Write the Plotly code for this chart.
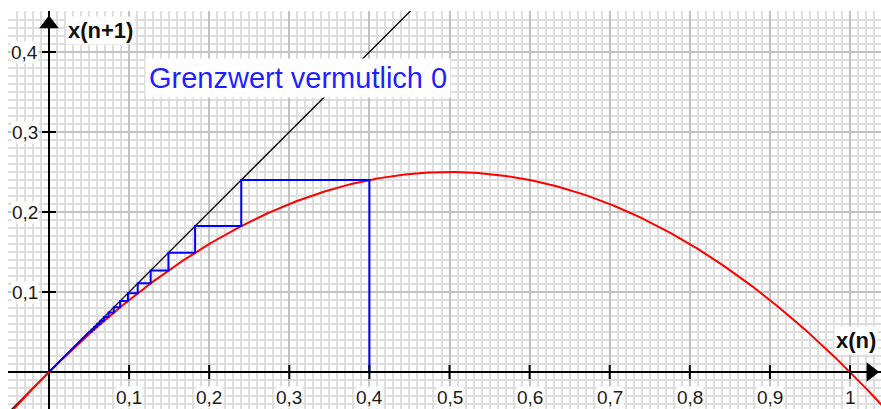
import numpy as np
import plotly.graph_objects as go

# Logistic map x(n+1) = r * x(n) * (1 - x(n)) with r = 1
r = 1.0

# Orbit values of the iteration (start 0.4, tending to the limit 0)
orbit = [0.4, 0.24, 0.1824, 0.1491, 0.1269, 0.1108, 0.0985, 0.0888,
         0.0809, 0.0744, 0.0688, 0.0641, 0.0600, 0.0564, 0.0532, 0.0504]
limit = 0.0

x_ticks = [0.1, 0.2, 0.3, 0.4, 0.5, 0.6, 0.7, 0.8, 0.9, 1.0]
x_tick_labels = ["0,1", "0,2", "0,3", "0,4", "0,5", "0,6", "0,7", "0,8", "0,9", "1"]
y_ticks = [0.1, 0.2, 0.3, 0.4]
y_tick_labels = ["0,1", "0,2", "0,3", "0,4"]

x_range = [-0.0512, 1.0387]
y_range = [-0.04625, 0.45125]


def f(x):
    return r * x * (1 - x)


# Graph of f
xs = np.linspace(-0.06, 1.05, 600)
ys = f(xs)

# Cobweb path: start on the x-axis, then alternate vertical / horizontal moves
cx = [orbit[0]]
cy = [0.0]
for a, b in zip(orbit[:-1], orbit[1:]):
    cx += [a, b]
    cy += [b, b]
# remaining tiny steps run along the bisector towards the limit
cx.append(limit)
cy.append(limit)

fig = go.Figure()

# Bisector y = x
fig.add_trace(go.Scatter(x=[-0.06, 0.46], y=[-0.06, 0.46], mode="lines",
                         line=dict(color="#000000", width=1.3), hoverinfo="skip"))
# Parabola
fig.add_trace(go.Scatter(x=xs, y=ys, mode="lines",
                         line=dict(color="#ff0000", width=2), hoverinfo="skip"))
# Cobweb
fig.add_trace(go.Scatter(x=cx, y=cy, mode="lines",
                         line=dict(color="#0000ff", width=2), hoverinfo="skip"))

# Tick marks on the axes
fig.add_trace(go.Scatter(x=x_ticks, y=[0] * len(x_ticks), mode="markers",
                         marker=dict(symbol="line-ns-open", size=10, color="#000",
                                     line=dict(color="#000", width=2)),
                         hoverinfo="skip"))
fig.add_trace(go.Scatter(x=[0] * len(y_ticks), y=y_ticks, mode="markers",
                         marker=dict(symbol="line-ew-open", size=10, color="#000",
                                     line=dict(color="#000", width=2)),
                         hoverinfo="skip"))
# Arrow heads
fig.add_trace(go.Scatter(x=[0], y=[0.435], mode="markers",
                         marker=dict(symbol="triangle-up", size=17, color="#000"),
                         hoverinfo="skip"))
fig.add_trace(go.Scatter(x=[1.026], y=[0], mode="markers",
                         marker=dict(symbol="triangle-right", size=17, color="#000"),
                         hoverinfo="skip"))

label_font = dict(family="Liberation Sans, Arial, sans-serif", size=19, color="#1a1a1a")
annotations = []
for t, s in zip(x_ticks, x_tick_labels):
    annotations.append(dict(x=t, y=0, text=s, showarrow=False, xanchor="center",
                            yanchor="middle", yshift=-25, font=label_font,
                            bgcolor="#ffffff", borderpad=0))
for t, s in zip(y_ticks, y_tick_labels):
    annotations.append(dict(x=0, y=t, text=s, showarrow=False, xanchor="right",
                            yanchor="middle", xshift=-10, font=label_font,
                            bgcolor="#ffffff", borderpad=0))

title_font = dict(family="Liberation Sans, Arial, sans-serif", size=22, color="#111")
annotations.append(dict(x=0, y=0.4275, text="<b>x(n+1)</b>", showarrow=False,
                        xanchor="left", yanchor="middle", xshift=17,
                        font=title_font, bgcolor="#ffffff", borderpad=1))
annotations.append(dict(x=1.0387, y=0.04, text="<b>x(n)</b>", showarrow=False,
                        xanchor="right", yanchor="middle", xshift=-3,
                        font=title_font, bgcolor="#ffffff", borderpad=1))
annotations.append(dict(x=0.1275, y=0.368, text="Grenzwert vermutlich 0", showarrow=False,
                        xanchor="left", yanchor="middle", xshift=-6,
                        font=dict(family="Liberation Sans, Arial, sans-serif", size=29,
                                  color="#1f1fff"),
                        bgcolor="#ffffff", borderpad=3))

axis_common = dict(
    showticklabels=False, ticks="", dtick=0.1, tick0=0,
    showgrid=True, gridcolor="#c2c2c2", gridwidth=2,
    minor=dict(dtick=0.01, tick0=0, showgrid=True, gridcolor="#dedede", gridwidth=2),
    zeroline=True, zerolinecolor="#000000", zerolinewidth=2,
    showline=False, fixedrange=True,
)

fig.update_layout(
    width=881, height=409,
    margin=dict(l=8, r=0, t=11, b=0),
    paper_bgcolor="#ffffff", plot_bgcolor="#ffffff",
    showlegend=False,
    xaxis=dict(range=x_range, **axis_common),
    yaxis=dict(range=y_range, **axis_common),
    annotations=annotations,
)

fig.write_html("out.html")
